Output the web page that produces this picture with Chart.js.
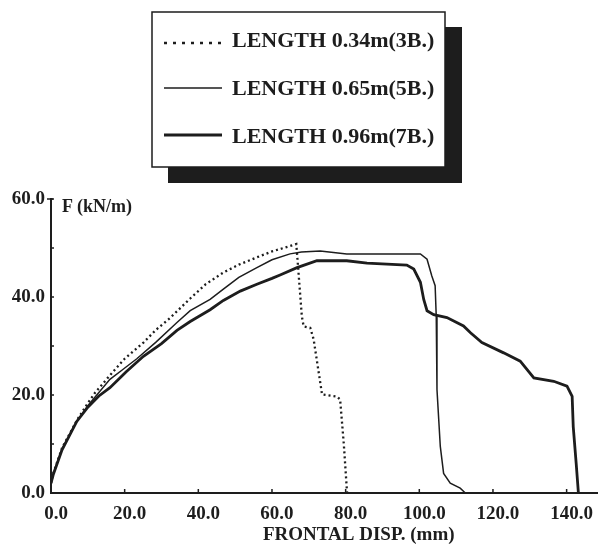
<!DOCTYPE html>
<html>
<head>
<meta charset="utf-8">
<script src="https://cdn.jsdelivr.net/npm/chart.js@4.4.0/dist/chart.umd.min.js"></script>
<style>
body { margin: 0; background: #fff; }
canvas { display: block; }
</style>
</head>
<body>
<canvas id="forceChart" width="598" height="546"></canvas>
<script>
// frontal displacement (mm) / force (kN/m)
const disp3B = [0, 0.6, 3, 7, 9.7, 12, 16, 20, 25.1, 28.5, 32.3, 37.8, 42, 46.8, 51, 55.9, 60, 64.9, 66.6, 67.2, 68.1, 68.6, 70.4, 71.3, 73.6, 77.6, 78.5, 79.5, 80.3, 80.4];
const force3B = [2, 4, 9.2, 14.8, 18, 20.5, 24, 27.4, 30.7, 33.3, 35.7, 39.7, 42.6, 45, 46.6, 48.1, 49.3, 50.4, 50.8, 45, 36.1, 34, 33.7, 31.4, 20.1, 19.7, 19.1, 10, 1, 0];

const disp5B = [0, 0.6, 3, 7, 10, 13, 16, 19.5, 23.3, 28.5, 34.2, 37.8, 43.2, 46.8, 51, 55.9, 60, 64.9, 68, 73.1, 80.3, 90, 100.3, 102.1, 103.4, 104.3, 104.6, 104.8, 105.7, 106.6, 108.4, 111.1, 112.5];
const force5B = [2, 4, 9, 14.6, 17.8, 20.5, 23.2, 25.2, 27.4, 30.8, 34.8, 37.2, 39.5, 41.6, 44, 46, 47.6, 48.8, 49.2, 49.4, 48.8, 48.8, 48.8, 47.7, 44.3, 42.3, 36, 21.1, 9.5, 4, 2, 1, 0];

const disp7B = [0, 0.6, 3, 7, 10, 13, 16, 20.5, 25.1, 30, 34.2, 37.8, 43.2, 46.8, 51.4, 55.9, 60, 62.2, 66.8, 72.2, 80.3, 85.8, 96.6, 98.5, 100.3, 101.2, 102.1, 103.9, 107.5, 112, 113.9, 117, 122.9, 127.4, 131.1, 136.5, 140.1, 141.5, 141.8, 142.6, 143.2];
const force7B = [2, 3.7, 8.8, 14.6, 17.5, 19.8, 21.5, 24.8, 27.9, 30.5, 33.2, 35, 37.4, 39.3, 41.2, 42.6, 43.8, 44.5, 46, 47.4, 47.4, 46.9, 46.5, 45.7, 43, 39.5, 37.2, 36.4, 35.8, 34.1, 32.7, 30.7, 28.6, 26.9, 23.5, 22.8, 21.8, 19.7, 13.5, 6, 0];

const seriesLabels = ['LENGTH 0.34m(3B.)', 'LENGTH 0.65m(5B.)', 'LENGTH 0.96m(7B.)'];
const xTickValues = [0, 20, 40, 60, 80, 100, 120, 140];
const yTickValues = [0, 20, 40, 60];
const yMinorTicks = [10, 30, 50];
const xAxisTitle = 'FRONTAL DISP. (mm)';
const yAxisTitle = ['F', '(kN/m)'];

const ink = '#1d1d1d';
const serif = "'Liberation Serif', 'DejaVu Serif', serif";

function toPoints(xs, ys) {
    return xs.map((x, i) => ({ x: x, y: ys[i] }));
}

// extra bits of the old figure: inside ticks, axis titles, boxed legend with shadow
const paperExtras = {
    id: 'paperExtras',
    afterDraw(chart) {
        const ctx = chart.ctx;
        const xs = chart.scales.x;
        const ys = chart.scales.y;
        const x0 = xs.getPixelForValue(0);
        const y0 = ys.getPixelForValue(0);
        ctx.save();
        ctx.strokeStyle = ink;
        ctx.fillStyle = ink;
        ctx.setLineDash([]);
        ctx.lineWidth = 1.5;

        // small ticks pointing into the plot
        xTickValues.slice(1).forEach(v => {
            const px = xs.getPixelForValue(v);
            ctx.beginPath(); ctx.moveTo(px, y0); ctx.lineTo(px, y0 - 4); ctx.stroke();
        });
        yTickValues.concat(yMinorTicks).forEach(v => {
            const py = ys.getPixelForValue(v);
            ctx.beginPath(); ctx.moveTo(x0, py); ctx.lineTo(x0 + 3, py); ctx.stroke();
        });
        const top = ys.getPixelForValue(60);
        ctx.beginPath(); ctx.moveTo(x0 - 4, top); ctx.lineTo(x0 + 2, top); ctx.stroke();

        // axis titles
        ctx.textBaseline = 'alphabetic';
        ctx.textAlign = 'left';
        ctx.font = 'bold 19px ' + serif;
        ctx.fillText(xAxisTitle, 263, 540);
        ctx.font = 'bold 18px ' + serif;
        ctx.fillText(yAxisTitle[0], 62, 212);
        ctx.fillText(yAxisTitle[1], 77, 212);

        // legend box
        const box = { left: 152, top: 12, right: 445, bottom: 167 };
        const w = box.right - box.left, h = box.bottom - box.top;
        ctx.fillRect(box.left + 16, box.top + 15, w + 1, h + 1);
        ctx.fillStyle = '#fff';
        ctx.fillRect(box.left, box.top, w, h);
        ctx.lineWidth = 1.5;
        ctx.strokeRect(box.left, box.top, w, h);

        const rowLine = [43, 88, 135];
        const rowText = [47, 95, 143];
        ctx.font = 'bold 22px ' + serif;
        ctx.fillStyle = ink;
        chart.data.datasets.forEach((ds, i) => {
            ctx.lineWidth = i === 0 ? 2.6 : ds.borderWidth;
            ctx.setLineDash(i === 0 ? [3, 6] : []);
            ctx.beginPath();
            ctx.moveTo(164, rowLine[i]);
            ctx.lineTo(222, rowLine[i]);
            ctx.stroke();
            ctx.fillText(ds.label, 232, rowText[i]);
        });
        ctx.restore();
    }
};

const ctx = document.getElementById('forceChart').getContext('2d');
new Chart(ctx, {
    type: 'line',
    data: {
        datasets: [{
            label: seriesLabels[0],
            data: toPoints(disp3B, force3B),
            borderColor: ink,
            borderWidth: 2.3,
            borderDash: [2, 3],
            fill: false
        }, {
            label: seriesLabels[1],
            data: toPoints(disp5B, force5B),
            borderColor: ink,
            borderWidth: 1.5,
            fill: false
        }, {
            label: seriesLabels[2],
            data: toPoints(disp7B, force7B),
            borderColor: ink,
            borderWidth: 2.8,
            fill: false
        }]
    },
    options: {
        responsive: false,
        animation: false,
        devicePixelRatio: 1,
        layout: { padding: { top: 199, left: 0, right: 0, bottom: 0 } },
        elements: { point: { radius: 0 }, line: { tension: 0 } },
        plugins: {
            legend: { display: false },
            tooltip: { enabled: false }
        },
        scales: {
            x: {
                type: 'linear',
                min: 0,
                max: 148.3,
                afterFit(scale) { scale.height = 53; },
                afterBuildTicks(scale) { scale.ticks = xTickValues.map(v => ({ value: v })); },
                grid: { display: false, drawTicks: false },
                border: { display: true, color: ink, width: 2 },
                ticks: {
                    color: ink,
                    padding: 10,
                    labelOffset: 5,
                    maxRotation: 0,
                    font: { family: serif, size: 19, weight: 'bold' },
                    callback: v => v.toFixed(1)
                }
            },
            y: {
                min: 0,
                max: 60,
                afterFit(scale) { scale.width = 51; },
                afterBuildTicks(scale) { scale.ticks = yTickValues.map(v => ({ value: v })); },
                grid: { display: false, drawTicks: false },
                border: { display: true, color: ink, width: 2 },
                ticks: {
                    color: ink,
                    padding: 6,
                    font: { family: serif, size: 19, weight: 'bold' },
                    callback: v => v.toFixed(1)
                }
            }
        }
    },
    plugins: [paperExtras]
});
</script>
</body>
</html>
